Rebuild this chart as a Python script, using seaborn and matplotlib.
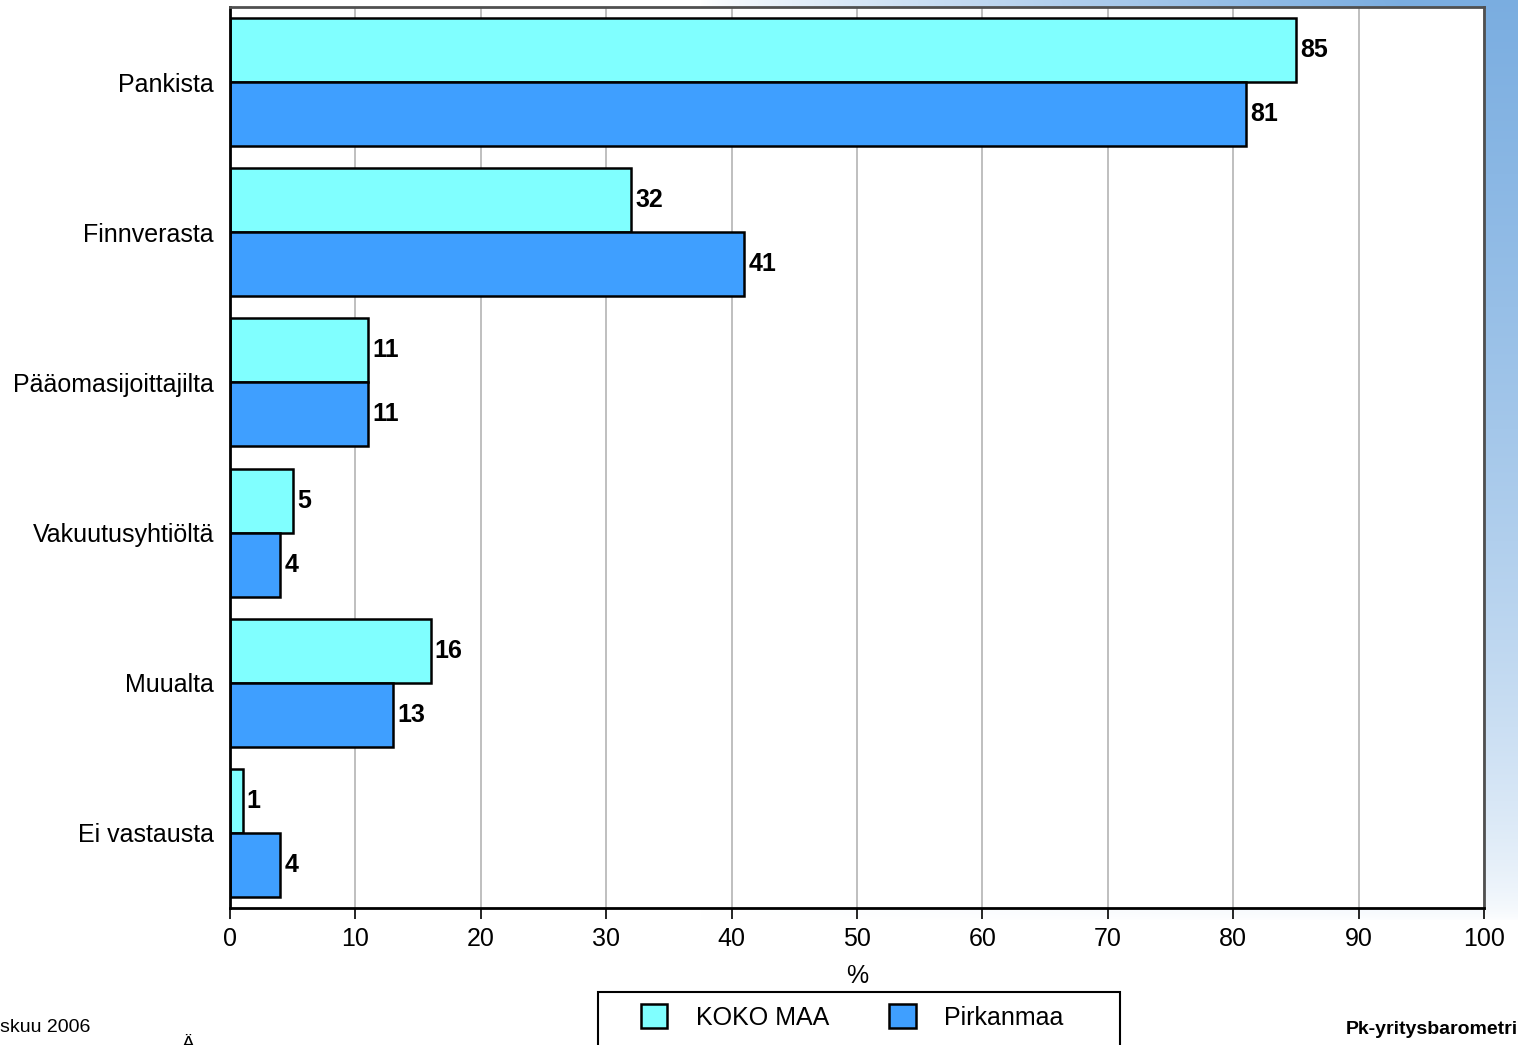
import pandas as pd
import matplotlib.pyplot as plt
import seaborn as sns
import numpy as np
from matplotlib.patches import Rectangle

categories = ['Pankista', 'Finnverasta', 'Pääomasijoittajilta',
              'Vakuutusyhtiöltä', 'Muualta', 'Ei vastausta']
koko_maa = [85, 32, 11, 5, 16, 1]
pirkanmaa = [81, 41, 11, 4, 13, 4]
series_names = ['KOKO MAA', 'Pirkanmaa']
colors = ['#80FFFF', '#3F9FFF']
x_ticks = [0, 10, 20, 30, 40, 50, 60, 70, 80, 90, 100]

df = pd.DataFrame({
    'Kategoria': categories * 2,
    'Sarja': [series_names[0]] * len(categories) + [series_names[1]] * len(categories),
    'Arvo': koko_maa + pirkanmaa,
})

sns.set_style('white')
plt.rcParams['font.family'] = ['Liberation Sans', 'DejaVu Sans']
plt.rcParams['text.color'] = 'black'
plt.rcParams['xtick.color'] = 'black'
plt.rcParams['ytick.color'] = 'black'
plt.rcParams['axes.labelcolor'] = 'black'

fig = plt.figure(figsize=(15.18, 10.45), dpi=100)
h, w = 1045, 1518

# slide background gradient (top-right blue)
bg = fig.add_axes([0, 0, 1, 1], zorder=-10)
xx, yy = np.meshgrid(np.arange(w), np.arange(h))
wx = np.clip((xx - 700) / 700, 0, 1) ** 0.8
wy = np.clip(1 - yy / 920, 0, 1) ** 0.6
wgt = (wx * wy)[..., None]
blue = np.array([0.48, 0.68, 0.88])
img = (1 - wgt) * np.ones(3) + wgt * blue
bg.imshow(img, aspect='auto', extent=[0, 1, 0, 1], origin='upper')
bg.axis('off')

ax = fig.add_axes([230 / w, 1 - 908 / h, (1484 - 230) / w, (908 - 7) / h])
sns.barplot(data=df, y='Kategoria', x='Arvo', hue='Sarja', orient='h',
            palette=colors, width=0.853, edgecolor='black', linewidth=1.8,
            saturation=1, ax=ax, legend=True)

ax.set_facecolor('white')
ax.set_xlim(0, 100)
ax.set_ylim(5.5, -0.5)
ax.set_xticks(x_ticks)
ax.tick_params(axis='x', labelsize=18, length=8, width=1.2, direction='out',
               bottom=True, pad=6)
ax.tick_params(axis='y', labelsize=18, length=0, pad=11.5)
ax.xaxis.grid(True, color='#B4B4B4', linewidth=1.2)
ax.set_axisbelow(True)
ax.set_ylabel('')
ax.set_xlabel('%', fontsize=18, labelpad=9)
for side in ['left', 'bottom']:
    ax.spines[side].set_color('black')
    ax.spines[side].set_linewidth(2)
for side in ['top', 'right']:
    ax.spines[side].set_color('#505050')
    ax.spines[side].set_linewidth(2)
    ax.spines[side].set_visible(True)

for cont in ax.containers:
    ax.bar_label(cont, fmt='%d', padding=3, fontsize=18, fontweight='bold')

handles, labels = ax.get_legend_handles_labels()
ax.get_legend().remove()

# legend box runs off the bottom of the slide
fig.patches.append(Rectangle((598 / w, -0.02), (1120 - 598) / w, 0.02 + 1 - 992 / h,
                             transform=fig.transFigure, facecolor='white',
                             edgecolor='black', linewidth=1.5, zorder=5))
leg = fig.legend(handles, labels, loc='center left',
                 bbox_to_anchor=(641 / w, 1 - 1017 / h), ncol=2,
                 frameon=False, fontsize=18, handlelength=1.05, handleheight=1.05,
                 columnspacing=2.4, handletextpad=1.15, borderpad=0,
                 borderaxespad=0)
leg.set_zorder(6)

fig.text(0, 1 - 1028 / h, 'skuu 2006', fontsize=14, va='center', ha='left')
fig.text(182 / w, 1 - 1036 / h, 'Ä', fontsize=14, va='top', ha='left')
fig.text(1518 / w, 1 - 1030 / h, 'Pk-yritysbarometri', fontsize=14,
         fontweight='bold', va='center', ha='right')

fig.savefig('out.png', dpi=100)
